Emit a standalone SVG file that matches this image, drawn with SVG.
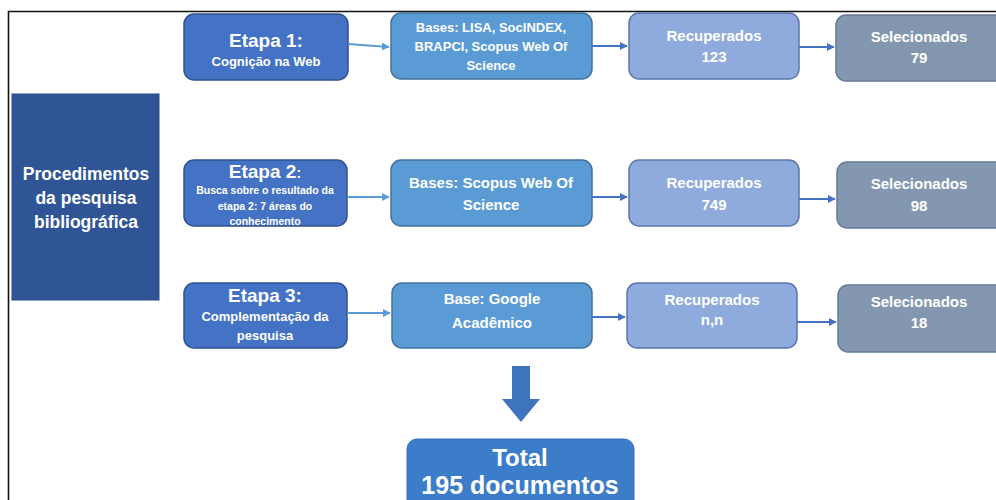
<svg xmlns="http://www.w3.org/2000/svg" width="996" height="500" viewBox="0 0 996 500">
<defs>
<style>
text{font-family:"Liberation Sans",Arial,sans-serif;font-weight:bold;fill:#fff;text-anchor:middle}
.etapa{fill:#4472C4;stroke:#2F528F;stroke-width:1.5}
.base{fill:#5B9BD5;stroke:#41719C;stroke-width:1.5}
.rec{fill:#8FAADC;stroke:#5B76AC;stroke-width:1.5}
.sel{fill:#8497B0;stroke:#66799A;stroke-width:1.5}
.t19{font-size:19px}.t13{font-size:13px}.t15{font-size:15px}.t105{font-size:10.5px}
.c1{stroke:#5B9BD5;stroke-width:2;fill:none}
.c2{stroke:#4472C4;stroke-width:2;fill:none}
</style>
<marker id="ah1" viewBox="0 0 10 10" refX="9" refY="5" markerWidth="4" markerHeight="4" orient="auto" markerUnits="strokeWidth"><path d="M0,0L10,5L0,10z" fill="#5B9BD5"/></marker>
<marker id="ah2" viewBox="0 0 10 10" refX="9" refY="5" markerWidth="4" markerHeight="4" orient="auto" markerUnits="strokeWidth"><path d="M0,0L10,5L0,10z" fill="#4472C4"/></marker>
</defs>
<rect width="996" height="500" fill="#fff"/>
<path d="M8.5,500V11.5H996" fill="none" stroke="#111" stroke-width="1.6"/>

<g id="procedimentos">
<rect x="12" y="94" width="147" height="206" fill="#2F5597" stroke="#2A4C86" stroke-width="1"/>
<text x="86" y="180" style="font-size:17.5px">Procedimentos</text>
<text x="86" y="204" style="font-size:17.5px">da pesquisa</text>
<text x="86" y="228" style="font-size:17.5px">bibliográfica</text>
</g>

<g id="etapa1">
<rect class="etapa" x="184" y="14" width="164" height="66" rx="10"/>
<text class="t19" x="266" y="47">Etapa 1:</text>
<text class="t13" x="266" y="66">Cognição na Web</text>
</g>
<g id="bases1">
<rect class="base" x="391" y="13" width="201" height="66" rx="10"/>
<text class="t13" x="491" y="32">Bases: LISA, SocINDEX,</text>
<text class="t13" x="491" y="51">BRAPCI, Scopus  Web Of</text>
<text class="t13" x="491" y="70">Science</text>
</g>
<g id="rec1">
<rect class="rec" x="629" y="13" width="170" height="66" rx="10"/>
<text class="t15" x="714" y="41">Recuperados</text>
<text class="t15" x="714" y="62">123</text>
</g>
<g id="sel1">
<rect class="sel" x="836" y="15" width="170" height="66" rx="10"/>
<text class="t15" x="919" y="42">Selecionados</text>
<text class="t15" x="919" y="63">79</text>
</g>

<g id="etapa2">
<rect class="etapa" x="184" y="160" width="163" height="66" rx="10"/>
<text class="t19" x="265" y="178">Etapa 2<tspan style="font-size:15px">:</tspan></text>
<text class="t105" x="265" y="194">Busca sobre o resultado da</text>
<text class="t105" x="265" y="210">etapa 2: 7 áreas do</text>
<text class="t105" x="265" y="225">conhecimento</text>
</g>
<g id="bases2">
<rect class="base" x="391" y="160" width="201" height="66" rx="10"/>
<text class="t15" x="491" y="188">Bases: Scopus  Web Of</text>
<text class="t15" x="491" y="210">Science</text>
</g>
<g id="rec2">
<rect class="rec" x="629" y="160" width="170" height="66" rx="10"/>
<text class="t15" x="714" y="188">Recuperados</text>
<text class="t15" x="714" y="210">749</text>
</g>
<g id="sel2">
<rect class="sel" x="837" y="162" width="170" height="66" rx="10"/>
<text class="t15" x="919" y="189">Selecionados</text>
<text class="t15" x="919" y="211">98</text>
</g>

<g id="etapa3">
<rect class="etapa" x="184" y="283" width="163" height="65" rx="10"/>
<text class="t19" x="265" y="302">Etapa 3:</text>
<text class="t13" x="265" y="321">Complementação da</text>
<text class="t13" x="265" y="340">pesquisa</text>
</g>
<g id="base3">
<rect class="base" x="392" y="283" width="200" height="65" rx="10"/>
<text class="t15" x="492" y="304">Base: Google</text>
<text class="t15" x="492" y="328">Acadêmico</text>
</g>
<g id="rec3">
<rect class="rec" x="627" y="283" width="170" height="65" rx="10"/>
<text class="t15" x="712" y="305">Recuperados</text>
<text class="t15" x="712" y="325">n,n</text>
</g>
<g id="sel3">
<rect class="sel" x="838" y="285" width="170" height="67" rx="10"/>
<text class="t15" x="919" y="307">Selecionados</text>
<text class="t15" x="919" y="328">18</text>
</g>

<g id="total">
<rect x="407" y="439" width="227" height="80" rx="10" fill="#3B7DC9" stroke="#3470B5" stroke-width="1"/>
<text x="520" y="466" style="font-size:24px">Total</text>
<text x="520" y="494" style="font-size:25px">195 documentos</text>
</g>

<g id="connectors">
<path class="c1" d="M348,44L389,47" marker-end="url(#ah1)"/>
<path class="c2" d="M592,46H627" marker-end="url(#ah2)"/>
<path class="c2" d="M799,47H834" marker-end="url(#ah2)"/>
<path class="c1" d="M347,197H389" marker-end="url(#ah1)"/>
<path class="c2" d="M592,197H627" marker-end="url(#ah2)"/>
<path class="c2" d="M799,199H835" marker-end="url(#ah2)"/>
<path class="c1" d="M347,313H390" marker-end="url(#ah1)"/>
<path class="c2" d="M592,317H625" marker-end="url(#ah2)"/>
<path class="c2" d="M797,322H836" marker-end="url(#ah2)"/>
<path d="M512,366H530V399H540L521,422L502,399H512Z" fill="#3E74BE"/>
</g>
</svg>
